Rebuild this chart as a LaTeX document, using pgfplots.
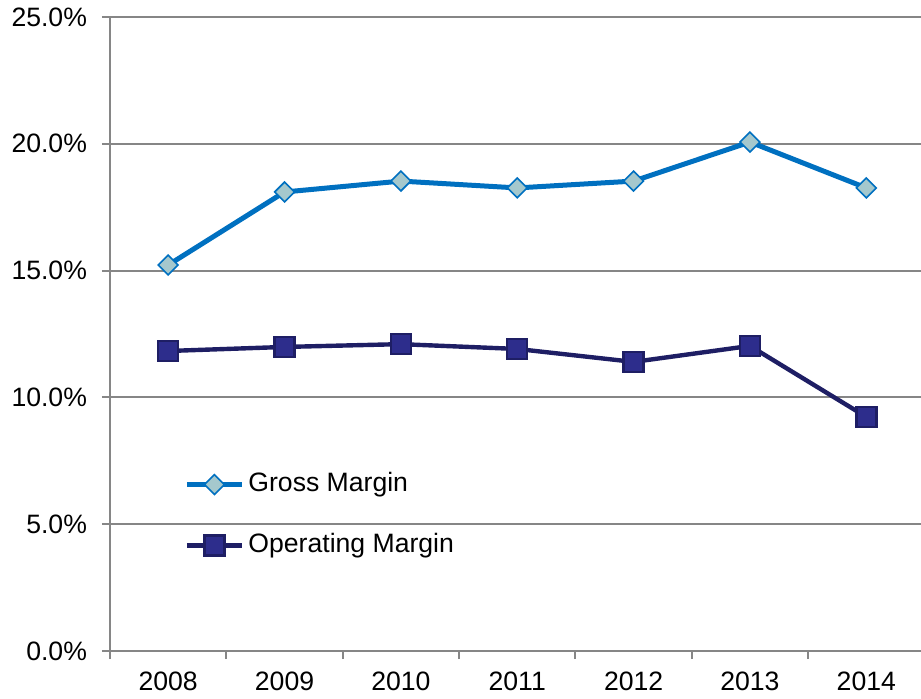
\documentclass[border=0pt]{standalone}
\usepackage{fontspec}
\setmainfont{Liberation Sans}
\usepackage{pgfplots}
\pgfplotsset{compat=1.18}
\definecolor{gmblue}{RGB}{0,112,192}
\definecolor{gmfill}{RGB}{165,200,205}
\definecolor{omnavy}{RGB}{30,30,100}
\definecolor{omfill}{RGB}{45,45,140}
\definecolor{gridgray}{RGB}{134,134,134}
\begin{document}
\begin{tikzpicture}
\begin{axis}[
  at={(55pt,23.5pt)}, anchor=south west,
  scale only axis, width=405.5pt, height=317pt,
  font=\fontsize{13.3}{15}\selectfont,
  xmin=-0.5, xmax=6.47, ymin=0, ymax=25,
  axis x line*=bottom, axis y line*=left,
  axis line style={gridgray, line width=1pt},
  xtick={0,...,6},
  xticklabels={2008,2009,2010,2011,2012,2013,2014},
  minor xtick={-0.5,0.5,1.5,2.5,3.5,4.5,5.5},
  major x tick style={draw=none},
  minor x tick style={gridgray, line width=1pt},
  minor tick length=4pt,
  ytick={0,5,10,15,20,25},
  yticklabels={0.0\%,5.0\%,10.0\%,15.0\%,20.0\%,25.0\%},
  ymajorgrids, major grid style={gridgray, line width=1pt},
  major y tick style={gridgray, line width=1pt},
  major tick length=4pt,
  tick align=outside,
  xticklabel style={yshift=-3pt},
  yticklabel style={xshift=-4pt},
  /pgf/number format/assume math mode=true,
  clip=false,
  legend style={at={(0.0839,0.29)}, anchor=north west, draw=none, fill=none,
    row sep=17.5pt, font=\fontsize{13.3}{15}\selectfont,
    nodes={inner sep=0pt, text height=10pt, text depth=3pt}},
  legend cell align=left,
  legend image code/.code={\draw[mark repeat=2,mark phase=2] plot coordinates {(0pt,0pt) (13.75pt,0pt) (27.5pt,0pt)};},
]
\addplot[gmblue, line width=2.5pt, mark=square*, mark size=3.5pt,
  mark options={fill=gmfill, draw=gmblue, line width=0.8pt, rotate=45}]
  coordinates {(0,15.22) (1,18.10) (2,18.53) (3,18.26) (4,18.53) (5,20.07) (6,18.26)};
\addlegendentry{\hspace{2pt}Gross Margin}
\addplot[omnavy, line width=2.2pt, mark=square*, mark size=5pt,
  mark options={fill=omfill, draw=omnavy, line width=1.2pt, rounded corners=1pt}]
  coordinates {(0,11.83) (1,11.99) (2,12.10) (3,11.91) (4,11.40) (5,12.03) (6,9.23)};
\addlegendentry{\hspace{2pt}Operating Margin}
\end{axis}
\pgfresetboundingbox
\path (0,0) rectangle (460.5pt,349pt);
\end{tikzpicture}
\end{document}
